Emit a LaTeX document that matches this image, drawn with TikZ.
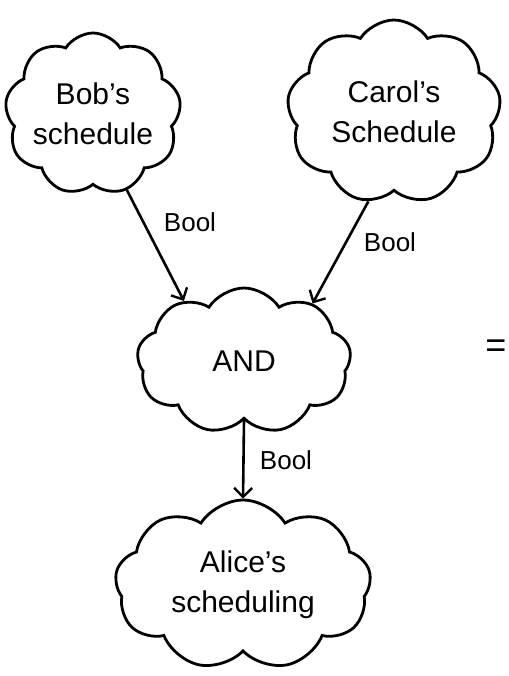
\documentclass[tikz,border=0pt]{standalone}
\usepackage{fontspec}
\setmainfont{Liberation Sans}
\usetikzlibrary{shapes.symbols,arrows.meta}
\begin{document}
\begin{tikzpicture}[x=1pt,y=-1pt,
  puff/.style={cloud, cloud ignores aspect, draw, line width=2.8pt, cloud puffs=9, cloud puff arc=115,
    align=center, font=\fontsize{30}{40}\selectfont, inner sep=0pt},
  flow/.style={line width=2.6pt, -{Straight Barb[length=9pt,width=18pt,line width=2.4pt]}},
  typelabel/.style={font=\fontsize{26}{30}\selectfont}]
  \useasboundingbox (0,0) rectangle (508,676);

  \node[puff, minimum width=168pt, minimum height=162pt] (bob) at (93,114) {Bob's\\schedule};
  \node[puff, minimum width=214pt, minimum height=184pt] (carol) at (394,112) {Carol's\\Schedule};
  \node[puff, minimum width=214pt, minimum height=146pt] (and) at (244,361) {AND};
  \node[puff, minimum width=256pt, minimum height=170pt] (alice) at (243,585) {Alice's\\scheduling};

  \draw[flow] (bob.-66) -- (and.135);
  \draw[flow] (carol.-106) -- (and.40);
  \draw[flow] (and.south) -- (alice.north);

  \node[typelabel] (b1) at (190,222) {Bool};
  \node[typelabel] (b2) at (390,242) {Bool};
  \node[typelabel] (b3) at (286,460) {Bool};

  \node[font=\fontsize{36}{40}\selectfont, inner sep=0pt] (eq) at (496,349) {=};
\end{tikzpicture}
\end{document}
